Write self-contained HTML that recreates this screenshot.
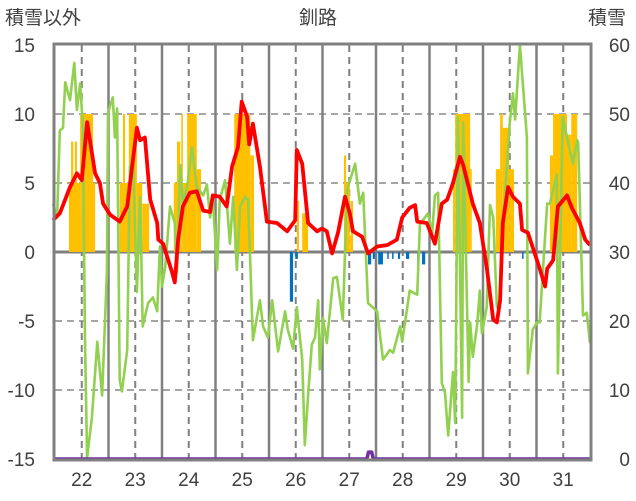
<!DOCTYPE html>
<html><head><meta charset="utf-8"><style>
body{margin:0;background:#fff;}
svg{display:block;font-family:"Liberation Sans","Noto Sans CJK JP",sans-serif;}
</style></head><body>
<svg id="c" width="636" height="501">
<text x="5" y="24" font-size="19" fill="#404040">積雪以外</text>
<text x="318" y="24" font-size="19" fill="#404040" text-anchor="middle">釧路</text>
<text x="588" y="24" font-size="19" fill="#404040">積雪</text>
<g id="grid"></g>
<g id="bars"></g>
<g id="lines"></g>
<g id="axes"></g>
</svg>
<script>
const dayTicks=[22,23,24,25,26,27,28,29,30,31];
const leftTicks=[15,10,5,0,-5,-10,-15];
const rightTicks=[60,50,40,30,20,10,0];
const redT=[21.46,21.59,21.78,21.91,22.00,22.10,22.25,22.34,22.40,22.53,22.71,22.85,23.03,23.09,23.18,23.28,23.41,23.43,23.52,23.69,23.74,23.80,23.89,24.02,24.15,24.27,24.40,24.45,24.58,24.71,24.81,24.92,24.99,25.09,25.13,25.20,25.33,25.46,25.65,25.84,25.99,26.02,26.12,26.23,26.40,26.49,26.58,26.68,26.79,26.92,27.01,27.07,27.24,27.35,27.52,27.71,27.89,27.99,28.13,28.23,28.27,28.45,28.60,28.73,28.83,28.94,29.07,29.13,29.31,29.44,29.57,29.69,29.76,29.82,29.87,29.97,30.06,30.19,30.23,30.34,30.51,30.56,30.66,30.70,30.81,30.90,31.07,31.16,31.31,31.41,31.50];
const redV=[2.3,2.8,4.7,5.7,5.2,9.4,5.7,5.0,3.5,2.7,2.2,3.3,9.0,8.1,8.3,3.8,2.1,0.9,0.6,-1.5,-2.2,0.9,3.3,4.3,4.4,3.0,2.9,4.1,4.0,3.3,6.2,7.6,10.9,9.8,7.8,9.3,6.2,2.2,2.1,1.5,2.3,7.4,6.4,2.1,1.5,1.7,1.5,-0.1,1.4,4.0,2.8,1.5,1.1,-0.1,0.4,0.5,0.9,2.5,3.2,3.4,2.2,2.1,0.6,3.5,3.8,5.0,6.9,6.3,3.5,2.1,-1.1,-4.9,-5.1,-3.5,2.1,4.7,4.0,3.5,1.6,1.4,-0.6,-1.2,-2.5,-1.2,-0.6,3.3,4.1,3.2,2.1,0.9,0.5];
const greenT=[21.46,21.54,21.59,21.65,21.69,21.78,21.86,21.91,21.97,22.02,22.06,22.10,22.19,22.29,22.38,22.47,22.49,22.58,22.62,22.66,22.71,22.75,22.85,22.90,22.96,23.03,23.09,23.14,23.24,23.33,23.41,23.46,23.50,23.56,23.65,23.74,23.78,23.84,23.89,23.97,24.06,24.15,24.27,24.34,24.40,24.45,24.53,24.58,24.68,24.77,24.83,24.90,24.96,25.05,25.11,25.20,25.33,25.39,25.48,25.56,25.67,25.80,25.85,25.95,26.02,26.12,26.17,26.23,26.30,26.36,26.42,26.45,26.51,26.58,26.70,26.77,26.88,26.96,27.11,27.20,27.26,27.35,27.52,27.63,27.76,27.82,27.95,27.99,28.13,28.27,28.32,28.47,28.55,28.60,28.66,28.73,28.79,28.85,28.94,28.98,29.03,29.11,29.13,29.23,29.26,29.31,29.39,29.44,29.48,29.57,29.63,29.69,29.76,29.82,29.91,30.00,30.06,30.10,30.19,30.32,30.34,30.43,30.51,30.56,30.62,30.70,30.75,30.88,30.90,30.99,31.07,31.18,31.26,31.28,31.37,31.44,31.50];
const greenV=[3.5,2.5,8.8,9.0,12.3,11.0,13.7,10.3,12.2,9.3,-6.4,-14.9,-12.0,-6.5,-10.4,-1.5,10.1,11.2,8.3,10.4,-9.3,-10.1,-7.1,6.2,6.7,-2.9,4.0,-5.4,-3.7,-3.3,-4.3,0.4,-2.5,-1.1,3.3,2.1,-1.5,6.3,3.5,4.7,7.6,4.7,4.1,4.9,2.5,3.9,-1.3,3.8,5.2,0.6,4.0,-1.3,3.3,4.0,3.8,-6.4,-3.5,-5.4,-6.2,-3.5,-7.2,-4.3,-5.6,-7.0,-4.0,-7.8,-14.0,-10.4,-6.7,-6.2,-3.5,-8.5,-4.8,-6.6,-1.9,-1.8,-4.9,4.5,6.4,3.5,4.3,-3.7,-4.3,-7.8,-7.1,-7.3,-5.4,-6.5,-2.8,-3.1,2.0,2.8,1.4,4.1,4.3,-9.5,-10.2,-13.3,-8.7,-12.4,9.8,-12.0,9.4,-9.4,-5.1,-7.6,-5.3,-2.8,-5.9,-4.0,3.4,2.5,-4.0,-3.5,4.0,9.4,11.5,9.6,15,8.3,-8.8,-5.6,-5.1,-5.1,-1.3,3.5,3.5,5.6,-8.8,9.8,8.3,6.4,8.1,7.9,-4.6,-4.4,-6.6];
const orangeStart=[21.76,21.80,21.87,21.97,22.21,22.71,22.77,22.81,22.88,23.03,23.13,23.72,23.78,23.84,23.86,23.89,23.97,24.15,24.85,25.15,26.02,26.12,26.90,26.94,27.01,27.03,28.94,28.98,29.26,29.74,29.82,29.87,29.99,30.75,30.81,31.07,31.15];
const orangeEnd=[21.97,21.84,21.91,22.21,22.25,22.77,22.81,22.88,23.03,23.13,23.26,23.78,23.84,23.86,23.89,23.97,24.15,24.23,25.15,25.22,26.06,26.23,26.94,27.01,27.03,27.07,28.98,29.26,29.29,29.82,29.87,29.99,30.08,30.81,31.07,31.15,31.26];
const orangeVal=[5,8,8,10,5,5,10,5,10,5,3.5,5,8,5,10,5,10,6,10,7,3.7,2.8,7,5,1.2,3.7,6,10,6,6,10,9,6,7,10,8.5,10];
const blueStart=[25.89,25.99,27.35,27.44,27.54,27.71,27.80,27.91,28.06,28.27,28.36,30.23];
const blueEnd=[25.95,26.04,27.41,27.48,27.63,27.73,27.82,27.95,28.12,28.30,28.42,30.25];
const blueVal=[-3.6,-0.5,-0.9,-0.5,-0.9,-0.5,-0.5,-0.5,-0.5,-2.0,-0.9,-0.5];
const snowT=[21.5,27.33,27.36,27.42,27.45,31.5];
const snowV=[0,0,1,1,0,0];

const L=55,R=590,T=45,B=459,D0=21.5,D1=31.5;
const xS=d=>L+(d-D0)/(D1-D0)*(R-L);
const yL=v=>T+(15-v)/30*(B-T);
const yR=v=>T+(60-v)/60*(B-T);
const NS='http://www.w3.org/2000/svg';
function mk(tag,par,at){const e=document.createElementNS(NS,tag);for(const k in at)e.setAttribute(k,at[k]);par.appendChild(e);return e;}
const grid=document.getElementById('grid'),bars=document.getElementById('bars'),lines=document.getElementById('lines'),axes=document.getElementById('axes');
leftTicks.forEach(v=>{if(v===15||v===-15||v===0)return;
 const g=mk('line',grid,{x1:L,x2:R,y1:yL(v),y2:yL(v),stroke:'#a6a6a6','stroke-width':2,'stroke-dasharray':'7,5'});
 
 });
dayTicks.forEach(d=>{
 const g=mk('line',grid,{x1:xS(d),x2:xS(d),y1:T,y2:B,stroke:'#808080','stroke-width':2,'stroke-dasharray':'7,5'});
 
 
 if(d<31){const s=mk('line',grid,{x1:xS(d+0.5),x2:xS(d+0.5),y1:T,y2:B,stroke:'#808080','stroke-width':2.5});
 
 }
});
orangeVal.forEach((v,i)=>{const x1=xS(orangeStart[i]),x2=xS(orangeEnd[i]);
 const r=mk('rect',bars,{x:x1,y:yL(v),width:Math.max(1,x2-x1),height:yL(0)-yL(v),fill:'#ffc000'});
 
 });
blueVal.forEach((v,i)=>{const x1=xS(blueStart[i]),x2=xS(blueEnd[i]);
 const r=mk('rect',bars,{x:x1,y:yL(0),width:Math.max(1.5,x2-x1),height:yL(v)-yL(0),fill:'#0070c0'});
 
 });
const z=mk('line',grid,{x1:L,x2:R,y1:yL(0),y2:yL(0),stroke:'#808080','stroke-width':3});


function path(ts,vs,yf){return ts.map((t,i)=>(i?'L':'M')+xS(t).toFixed(1)+','+yf(vs[i]).toFixed(1)).join('');}
const gp=mk('path',lines,{d:path(greenT,greenV,yL),fill:'none',stroke:'#92d050','stroke-width':2.6,'stroke-linejoin':'round'});


const rp=mk('path',lines,{d:path(redT,redV,yL),fill:'none',stroke:'#ff0000','stroke-width':3.8,'stroke-linejoin':'round'});


const pp=mk('path',lines,{d:path(snowT,snowV,yR),fill:'none',stroke:'#7030a0','stroke-width':3.5,'stroke-linejoin':'round'});


const fr=mk('rect',axes,{x:L-1,y:T-1,width:R-L+2,height:B-T+2,fill:'none',stroke:'#808080','stroke-width':3});


leftTicks.forEach(v=>{const t=mk('text',axes,{x:35,y:yL(v)+7,'font-size':19,fill:'#404040','text-anchor':'end'});t.textContent=v;
 
 });
rightTicks.forEach(v=>{const t=mk('text',axes,{x:630,y:yR(v)+7,'font-size':19,fill:'#404040','text-anchor':'end'});t.textContent=v;
 
 });
dayTicks.forEach(d=>{const t=mk('text',axes,{x:xS(d),y:486,'font-size':19,fill:'#404040','text-anchor':'middle'});t.textContent=d;
 
 });
</script>
</body></html>
